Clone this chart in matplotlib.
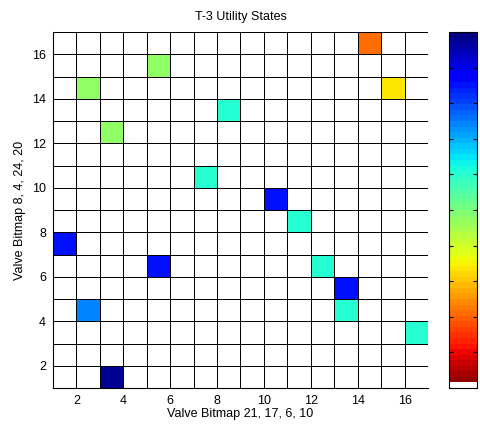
import numpy as np
import matplotlib.pyplot as plt
from matplotlib.colors import ListedColormap

plt.rcParams['font.family'] = ['Liberation Sans', 'DejaVu Sans']

# occupied cells of the 16x16 state grid (lower-left corner of each cell) and their level
cell_x = [14, 5, 2, 15, 8, 3, 7, 10, 11, 1, 5, 12, 13, 13, 2, 16, 3]
cell_y = [16, 15, 14, 14, 13, 12, 10, 9, 8, 7, 6, 6, 5, 4, 4, 3, 1]
cell_v = [2.1, 4.8, 4.8, 3.4, 6.0, 4.8, 6.0, 8.5, 6.0, 8.5, 8.5, 6.0, 8.5, 6.0, 7.4, 6.0, 9.75]

x_ticks = [2, 4, 6, 8, 10, 12, 14, 16]
y_ticks = [2, 4, 6, 8, 10, 12, 14, 16]
cbar_ticks = [0, 1, 2, 3, 4, 5, 6, 7, 8, 9]

edges = np.arange(1, 18)
z = np.zeros((16, 16))
for cx, cy, cv in zip(cell_x, cell_y, cell_v):
    z[cy - 1, cx - 1] = cv

# reversed jet, lowest entry white so empty cells stay blank
colors = plt.cm.jet_r(np.linspace(0, 1, 64))
colors[0] = [1, 1, 1, 1]
cmap = ListedColormap(colors)

fig = plt.figure(figsize=(4.81, 4.24), dpi=100)
ax = fig.add_axes([0.110, 0.0849, 0.780, 0.8396])
cax = fig.add_axes([0.9335, 0.0849, 0.0582, 0.8396])

mesh = ax.pcolormesh(edges, edges, z, cmap=cmap, vmin=0, vmax=10,
                     edgecolors='k', linewidth=0.7)
ax.set_xlim(1, 17)
ax.set_ylim(1, 17)
ax.set_xticks(x_ticks)
ax.set_yticks(y_ticks)
ax.tick_params(direction='in', length=0, labelsize=9, pad=5)
ax.spines['top'].set_visible(False)
ax.spines['right'].set_visible(False)
ax.spines['left'].set_linewidth(0.8)
ax.spines['bottom'].set_linewidth(0.8)
ax.set_title('T-3 Utility States', fontsize=9, pad=9)
ax.set_xlabel('Valve Bitmap 21, 17, 6, 10', fontsize=9, labelpad=1)
ax.set_ylabel('Valve Bitmap 8, 4, 24, 20', fontsize=9, labelpad=4)

cb = fig.colorbar(mesh, cax=cax, ticks=cbar_ticks)
cb.outline.set_linewidth(0.8)
cax.tick_params(direction='in', left=True, right=True, length=3,
                labelsize=9, pad=2)

fig.savefig('out.png', dpi=100)
